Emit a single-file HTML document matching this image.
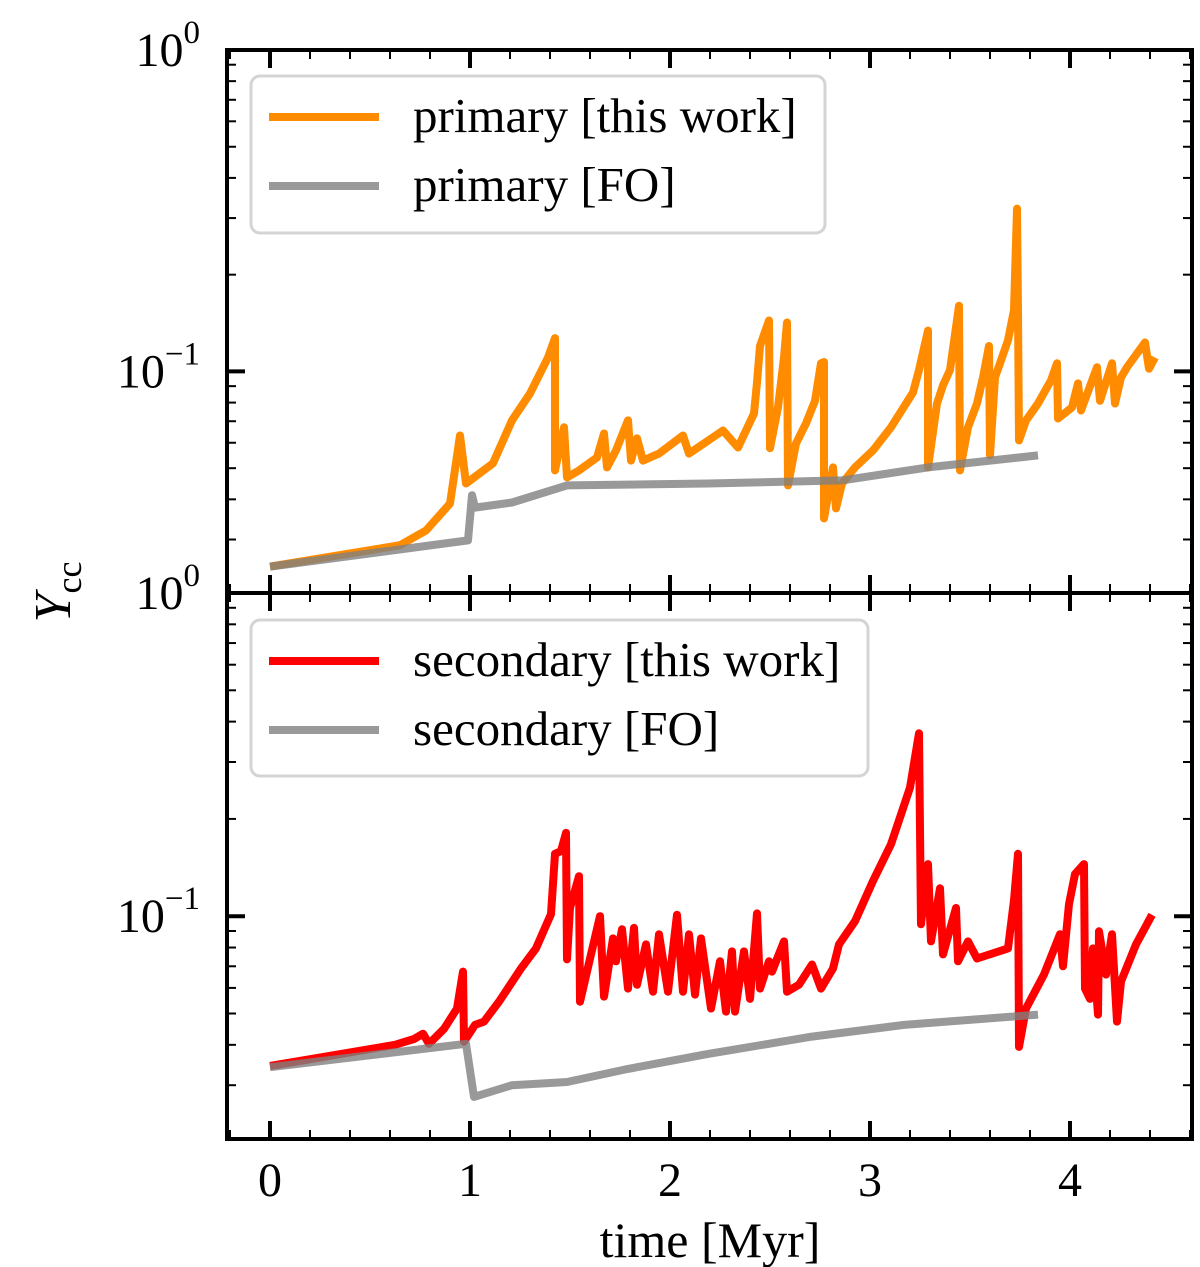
<!DOCTYPE html>
<html><head><meta charset="utf-8"><style>
html,body{margin:0;padding:0;background:#fff;}
svg{display:block;font-family:"Liberation Serif",serif;}
</style></head><body>
<svg id="chart" width="1200" height="1267" viewBox="0 0 1200 1267" xmlns="http://www.w3.org/2000/svg"></svg>
<script>
// ---- data ----
const xTicks = [0,1,2,3,4];
const priT = [0,.65,.78,.90,.95,.98,1.115,1.21,1.30,1.39,1.425,1.425,1.47,1.485,1.545,1.635,1.67,1.685,1.73,1.79,1.805,1.835,1.865,1.945,2.065,2.095,2.265,2.34,2.42,2.435,2.45,2.495,2.5,2.54,2.57,2.585,2.59,2.63,2.68,2.725,2.755,2.77,2.77,2.815,2.83,2.86,2.925,3.015,3.105,3.215,3.245,3.29,3.29,3.335,3.365,3.40,3.445,3.45,3.49,3.535,3.565,3.595,3.60,3.625,3.65,3.69,3.72,3.735,3.74,3.745,3.78,3.84,3.905,3.935,3.94,4.01,4.04,4.055,4.135,4.15,4.21,4.225,4.255,4.285,4.375,4.395,4.425];
const priY = [.0247,.0288,.032,.0388,.0632,.0448,.0518,.0704,.0854,.1105,.127,.0492,.067,.0468,.0492,.054,.0641,.0503,.0568,.0704,.0528,.0619,.0528,.0555,.0632,.0555,.0655,.058,.074,.0924,.12,.144,.0577,.0773,.1105,.142,.0442,.0597,.0689,.081,.106,.107,.0349,.0503,.0375,.0448,.0503,.0568,.067,.086,.101,.134,.0503,.0795,.0905,.101,.16,.0492,.067,.0795,.0958,.12,.0548,.0958,.106,.125,.155,.321,.153,.061,.0704,.0795,.0938,.106,.0714,.0773,.0918,.0756,.103,.081,.106,.0795,.0958,.103,.123,.102,.1105];
const priFoT = [0,.99,1.01,1.025,1.21,1.485,2.19,2.86,3.29,3.84];
const priFoY = [.0247,.0298,.0412,.0377,.0391,.0442,.0448,.0458,.0503,.0548];
const secT = [0,.625,.72,.765,.795,.87,.935,.965,.97,1.025,1.07,1.145,1.255,1.33,1.405,1.425,1.455,1.48,1.485,1.50,1.545,1.55,1.605,1.65,1.67,1.715,1.73,1.76,1.79,1.82,1.835,1.88,1.915,1.945,1.99,2.035,2.065,2.095,2.125,2.155,2.205,2.25,2.28,2.31,2.325,2.37,2.40,2.435,2.45,2.495,2.51,2.57,2.585,2.645,2.71,2.755,2.815,2.845,2.925,3.015,3.105,3.20,3.245,3.255,3.29,3.305,3.35,3.365,3.43,3.44,3.49,3.535,3.69,3.72,3.74,3.745,3.78,3.87,3.95,3.965,3.995,4.025,4.07,4.075,4.10,4.115,4.14,4.145,4.18,4.21,4.235,4.255,4.33,4.41];
const secY = [.0344,.04,.0417,.0433,.0403,.0448,.0518,.0674,.0409,.0461,.0472,.0544,.0689,.0795,.1015,.156,.159,.181,.0735,.106,.133,.0544,.0762,.1,.0564,.0854,.0725,.0911,.0597,.092,.0614,.0818,.0584,.0879,.0584,.101,.0584,.0879,.0572,.0854,.0518,.0725,.0507,.0778,.0507,.0778,.0555,.102,.0597,.0725,.0674,.0836,.0584,.0614,.0709,.0597,.0689,.0818,.0965,.1285,.167,.25,.368,.0944,.145,.0836,.122,.0762,.106,.0725,.0836,.074,.0795,.112,.156,.0394,.0518,.066,.088,.07,.109,.135,.145,.0597,.0555,.0795,.0496,.0898,.066,.088,.0472,.0628,.0818,.101];
const secFoT = [0,.98,1.02,1.21,1.485,1.79,2.19,2.71,3.17,3.84];
const secFoY = [.0341,.0403,.0276,.030,.0307,.0337,.0375,.0424,.0461,.0496];

// ---- layout ----
const NS="http://www.w3.org/2000/svg";
const svg=document.getElementById('chart');
const L=227,R=1192;
const X0=-0.215, X1=4.61;
function xs(t){return L+(t-X0)/(X1-X0)*(R-L);}
const panels=[{top:50,bot:593},{top:593,bot:1139}];
const YMIN=Math.log10(0.02045);
function ysF(p){return v=>p.top+(0-Math.log10(v))/(0-YMIN)*(p.bot-p.top);}
function mk(tag,attrs,parent){const e=document.createElementNS(NS,tag);for(const k in attrs)e.setAttribute(k,attrs[k]);(parent||svg).appendChild(e);return e;}

function drawLine(ts,vs,ys,color,op,name){
  let d='';ts.forEach((t,i)=>{d+=(i?'L':'M')+xs(t).toFixed(1)+','+ys(vs[i]).toFixed(1);});
  const p=mk('path',{d:d,fill:'none',stroke:color,'stroke-width':8,'stroke-opacity':op,'stroke-linejoin':'round','stroke-linecap':'butt'});
  
  
}

panels.forEach((p,pi)=>{
  const ys=ysF(p);
  const g=mk('g',{});
  
  
  if(pi===0){drawLine(priT,priY,ys,'#ff8c00',1,'primary-this-work-line');drawLine(priFoT,priFoY,ys,'#808080',0.8,'primary-fo-line');}
  else{drawLine(secT,secY,ys,'#ff0000',1,'secondary-this-work-line');drawLine(secFoT,secFoY,ys,'#808080',0.8,'secondary-fo-line');}
  const fr=mk('rect',{x:L,y:p.top,width:R-L,height:p.bot-p.top,fill:'none',stroke:'#000','stroke-width':4});
  
  
  for(let k=-1;k<=23;k++){const t=k*0.2;if(t<X0||t>X1)continue;const x=xs(t);const major=k%5===0;const len=major?18:9;const w=major?4:2;
    mk('line',{x1:x,x2:x,y1:p.bot,y2:p.bot-len,stroke:'#000','stroke-width':w});
    mk('line',{x1:x,x2:x,y1:p.top,y2:p.top+len,stroke:'#000','stroke-width':w});}
  [1,0.1].forEach(v=>{const y=ys(v);
    mk('line',{x1:L,x2:L+18,y1:y,y2:y,stroke:'#000','stroke-width':4});
    mk('line',{x1:R,x2:R-18,y1:y,y2:y,stroke:'#000','stroke-width':4});});
  [0.02,0.03,0.04,0.05,0.06,0.07,0.08,0.09,0.2,0.3,0.4,0.5,0.6,0.7,0.8,0.9].forEach(v=>{const y=ys(v);if(y>p.bot-1)return;
    mk('line',{x1:L,x2:L+9,y1:y,y2:y,stroke:'#000','stroke-width':2});
    mk('line',{x1:R,x2:R-9,y1:y,y2:y,stroke:'#000','stroke-width':2});});
  [[1,'0'],[0.1,'\u22121']].forEach(([v,e])=>{const y=ys(v);
    const t=mk('text',{x:200,y:y+16,'text-anchor':'end','font-size':48});
    
    
    t.textContent='10';
    const s=mk('tspan',{dy:-23,'font-size':33},t);s.textContent=e;});
});

xTicks.forEach(v=>{const t=mk('text',{x:xs(v),y:1196,'text-anchor':'middle','font-size':48});
  
  
  t.textContent=String(v);});
(function(){
 const xt=mk('text',{x:710,y:1257,'text-anchor':'middle','font-size':50});
 
 
 xt.textContent='time [Myr]';
 const yt=mk('text',{x:0,y:0,'text-anchor':'middle','font-size':52,transform:'translate(70,592) rotate(-90)'});
 
 
 const a=mk('tspan',{'font-style':'italic'},yt);a.textContent='Y';
 const b=mk('tspan',{dy:11,'font-size':36},yt);b.textContent='cc';
})();
function legend(x,y,w,h,items,name){
 const g=mk('g',{});
 
 
 mk('rect',{x:x,y:y,width:w,height:h,rx:9,fill:'#fff','fill-opacity':0.8,stroke:'#d4d4d4','stroke-width':3},g);
 items.forEach((it,i)=>{const cy=y+41+i*69;
  const ln=mk('line',{x1:x+18,x2:x+128,y1:cy,y2:cy,stroke:it[1],'stroke-opacity':it[2],'stroke-width':8},g);
  
  
  const t=mk('text',{x:x+162,y:cy+15,'font-size':49},g);
  
  
  t.textContent=it[0];});
}
legend(251,76,574,157,[['primary [this work]','#ff8c00',1],['primary [FO]','#808080',0.8]],'top-legend');
legend(251,620,617,156,[['secondary [this work]','#ff0000',1],['secondary [FO]','#808080',0.8]],'bottom-legend');
</script>
</body></html>
